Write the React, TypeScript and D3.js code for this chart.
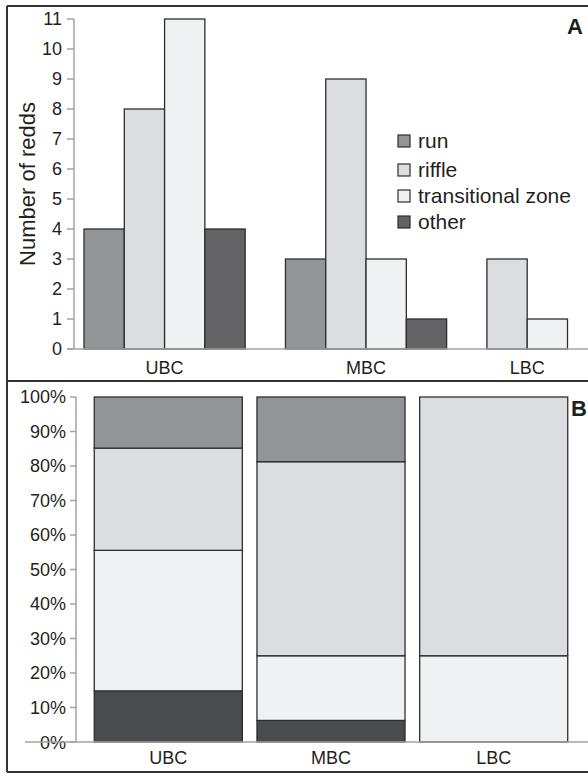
import React from "react";
import * as d3 from "d3";

// Redd counts per stream section and habitat type
const sites = ["UBC", "MBC", "LBC"];
const habitats = ["run", "riffle", "transitional zone", "other"];
const runCounts = [4, 3, 0];
const riffleCounts = [8, 9, 3];
const transitionalCounts = [11, 3, 1];
const otherCounts = [4, 1, 0];
const countTicks = [0, 1, 2, 3, 4, 5, 6, 7, 8, 9, 10, 11];
const shareTicks = [0, 0.1, 0.2, 0.3, 0.4, 0.5, 0.6, 0.7, 0.8, 0.9, 1];

const countsByHabitat: Record<string, number[]> = {
  run: runCounts,
  riffle: riffleCounts,
  "transitional zone": transitionalCounts,
  other: otherCounts,
};

const fillA: Record<string, string> = {
  run: "#939497",
  riffle: "#dcdde0",
  "transitional zone": "#f0f1f3",
  other: "#636365",
};
const fillB: Record<string, string> = {
  run: "#939497",
  riffle: "#dcdde0",
  "transitional zone": "#f0f1f3",
  other: "#4a4b4d",
};

const W = 588;
const H = 774;
const FONT = "'Liberation Sans', Arial, Helvetica, sans-serif";
const AXIS = "#a3a3a3";
const EDGE = "#2e2e2e";
const INK = "#1f1f20";

export default function App() {
  // ---- Panel A: grouped counts; empty habitats are skipped within a site
  type Slot = { key: string; site: string; habitat: string | null; value: number };
  const slots: Slot[] = [];
  sites.forEach((site, si) => {
    habitats.forEach((h) => {
      const v = countsByHabitat[h][si];
      if (v > 0) slots.push({ key: `${site}|${h}`, site, habitat: h, value: v });
    });
    if (si < sites.length - 1) slots.push({ key: `${site}|gap`, site, habitat: null, value: 0 });
  });

  const xA = d3.scaleBand<string>().domain(slots.map((s) => s.key)).range([84, 567.5]).padding(0);
  const yA = d3.scaleLinear().domain([0, 11]).range([349, 19]);
  const axisAX = 74;

  const siteCenterA = (site: string) => {
    const xs = slots
      .filter((s) => s.site === site && s.habitat)
      .map((s) => (xA(s.key) as number) + xA.bandwidth() / 2);
    return d3.mean(xs) as number;
  };

  // ---- Panel B: 100% stacked shares
  const table = sites.map((site, si) => {
    const row: Record<string, any> = { site };
    habitats.forEach((h) => (row[h] = countsByHabitat[h][si]));
    return row;
  });
  const stackKeys = ["other", "transitional zone", "riffle", "run"];
  const series = d3
    .stack<Record<string, any>>()
    .keys(stackKeys)
    .offset(d3.stackOffsetExpand)(table);

  const xB = d3.scaleBand<string>().domain(sites).range([78, 584]).paddingInner(0.09).paddingOuter(0.1);
  const yB = d3.scaleLinear().domain([0, 1]).range([742, 397]);
  const axisBX = 76;
  const pct = d3.format(".0%");

  const legendY = [141, 170, 196, 222];

  return (
    <svg width={W} height={H} style={{ display: "block", position: "absolute", left: 0, top: 0 }}>
      <rect x={0} y={0} width={W} height={H} fill="#ffffff" />

      {/* Panel A */}
      <g fontFamily={FONT} fill={INK}>
        {slots
          .filter((s) => s.habitat)
          .map((s) => (
            <rect
              key={s.key}
              x={xA(s.key)}
              y={yA(s.value)}
              width={xA.bandwidth()}
              height={yA(0) - yA(s.value)}
              fill={fillA[s.habitat as string]}
              stroke={EDGE}
              strokeWidth={1.3}
            />
          ))}
        <line x1={axisAX} x2={axisAX} y1={yA(11)} y2={yA(0)} stroke={AXIS} strokeWidth={1.5} />
        <line x1={67} x2={W} y1={yA(0)} y2={yA(0)} stroke={AXIS} strokeWidth={1.5} />
        {countTicks.map((t) => (
          <g key={t}>
            <line x1={67} x2={axisAX} y1={yA(t)} y2={yA(t)} stroke={AXIS} strokeWidth={1.5} />
            <text x={62} y={yA(t)} dy="0.35em" textAnchor="end" fontSize={18}>
              {t}
            </text>
          </g>
        ))}
        <text
          transform={`translate(27,${(yA(0) + yA(11)) / 2}) rotate(-90)`}
          textAnchor="middle"
          dy="0.35em"
          fontSize={22}
        >
          Number of redds
        </text>
        {sites.map((site) => (
          <text key={site} x={siteCenterA(site)} y={374} textAnchor="middle" fontSize={18}>
            {site}
          </text>
        ))}
        {habitats.map((h, i) => (
          <g key={h}>
            <rect x={398} y={legendY[i] - 6} width={12} height={12} fill={fillA[h]} stroke={EDGE} strokeWidth={1.2} />
            <text x={418} y={legendY[i]} dy="0.35em" fontSize={21}>
              {h}
            </text>
          </g>
        ))}
        <text x={583} y={34} textAnchor="end" fontSize={22} fontWeight="bold">
          A
        </text>
      </g>

      {/* Panel B */}
      <g fontFamily={FONT} fill={INK}>
        {series.map((s) =>
          s.map((d, i) =>
            d[1] - d[0] > 0 ? (
              <rect
                key={`${s.key}-${i}`}
                x={xB(sites[i])}
                y={yB(d[1])}
                width={xB.bandwidth()}
                height={yB(d[0]) - yB(d[1])}
                fill={fillB[s.key]}
                stroke={EDGE}
                strokeWidth={1.3}
              />
            ) : null
          )
        )}
        <line x1={axisBX} x2={axisBX} y1={yB(1)} y2={yB(0)} stroke={AXIS} strokeWidth={1.5} />
        {shareTicks.map((t) => (
          <g key={t}>
            <line x1={70} x2={axisBX} y1={yB(t)} y2={yB(t)} stroke={AXIS} strokeWidth={1.5} />
            <text x={66} y={yB(t) + (t === 0 ? 1 : 0)} dy="0.35em" textAnchor="end" fontSize={18}>
              {pct(t)}
            </text>
          </g>
        ))}
        <line x1={25} x2={W} y1={yB(0)} y2={yB(0)} stroke={AXIS} strokeWidth={1.5} />
        {sites.map((site) => (
          <text
            key={site}
            x={(xB(site) as number) + xB.bandwidth() / 2}
            y={764}
            textAnchor="middle"
            fontSize={18}
          >
            {site}
          </text>
        ))}
        <text x={587} y={416} textAnchor="end" fontSize={22} fontWeight="bold">
          B
        </text>
      </g>

      {/* Panel frames */}
      <line x1={7} x2={W} y1={6} y2={6} stroke="#333" strokeWidth={2} />
      <line x1={7} x2={W} y1={381} y2={381} stroke="#333" strokeWidth={2} />
      <line x1={7} x2={W} y1={772} y2={772} stroke="#333" strokeWidth={2} />
      <line x1={7} x2={7} y1={6} y2={772} stroke="#333" strokeWidth={2} />
    </svg>
  );
}
